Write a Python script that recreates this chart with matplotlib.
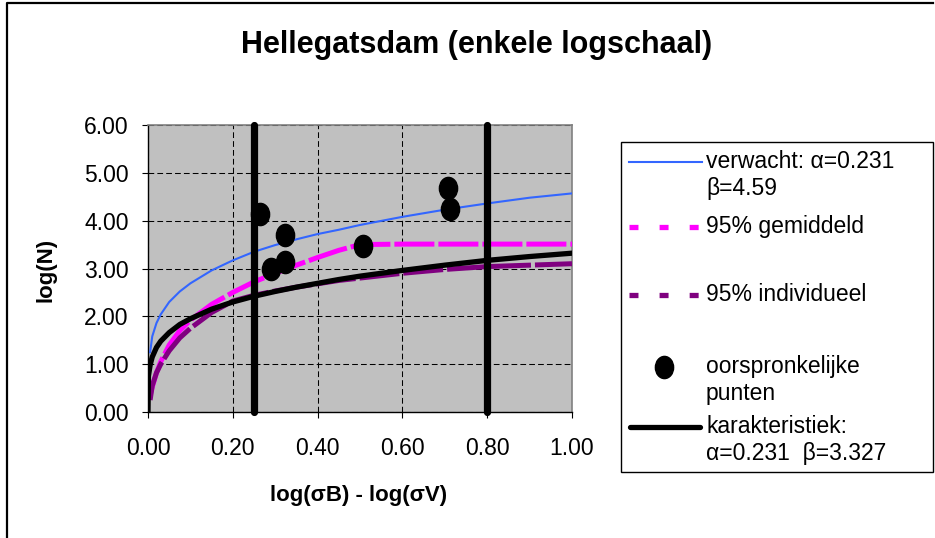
import numpy as np
import matplotlib
matplotlib.use("Agg")
import matplotlib.pyplot as plt
from matplotlib.patches import Rectangle
from matplotlib.path import Path
from matplotlib.transforms import Affine2D

# Curve values
x_curve = [0.0, 0.001, 0.005, 0.01, 0.02, 0.03, 0.05, 0.075, 0.1, 0.15, 0.2,
           0.25, 0.3, 0.35, 0.4, 0.45, 0.5, 0.6, 0.7, 0.8, 0.9, 1.0]
nan = float("nan")
verwacht = [nan, nan, 1.25, 1.58, 1.86, 2.04, 2.30, 2.52, 2.69, 2.96, 3.17,
            3.35, 3.49, 3.61, 3.72, 3.81, 3.91, 4.08, 4.23, 4.36, 4.48, 4.57]
gemiddeld = [nan, nan, 0.35, 0.52, 0.82, 1.05, 1.40, 1.70, 1.92, 2.25, 2.50,
             2.72, 2.90, 3.07, 3.23, 3.38, 3.50, 3.51, 3.51, 3.51, 3.51, 3.51]
individueel = [nan, nan, 0.25, 0.55, 0.82, 1.00, 1.28, 1.55, 1.75, 2.08, 2.32,
               2.44, 2.53, 2.61, 2.68, 2.75, 2.80, 2.90, 2.98, 3.04, 3.07, 3.10]
karakteristiek = [0.0, 0.75, 0.98, 1.15, 1.35, 1.48, 1.66, 1.83, 1.95, 2.15, 2.30,
                  2.42, 2.52, 2.61, 2.69, 2.77, 2.84, 2.96, 3.07, 3.17, 3.25, 3.32]

# Original points
punten_x = [0.264, 0.289, 0.322, 0.322, 0.508, 0.707, 0.712]
punten_y = [4.14, 2.98, 3.14, 3.70, 3.47, 4.68, 4.24]

# Vertical bounds
grens_x = [0.25, 0.80]
grens_y = [0.0, 6.0]

x_ticks = [0.0, 0.2, 0.4, 0.6, 0.8, 1.0]
y_ticks = [0.0, 1.0, 2.0, 3.0, 4.0, 5.0, 6.0]

legend_labels = ["verwacht: \u03b1=0.231\n\u03b2=4.59",
                 "95% gemiddeld",
                 "95% individueel",
                 "oorspronkelijke\npunten",
                 "karakteristiek:\n\u03b1=0.231  \u03b2=3.327"]

BLUE = "#3366FF"
MAGENTA = "#FF00FF"
PURPLE = "#800080"


def main():
    plt.rcParams["font.family"] = ["Liberation Sans", "DejaVu Sans"]
    W, H = 935, 538
    fig = plt.figure(figsize=(W / 100, H / 100), dpi=100)

    # Plot area in pixels: left 148, right 572, top 125, bottom 412
    ax = fig.add_axes([148 / W, 1 - 412 / H, 424 / W, 287 / H])
    ax.set_facecolor("#C0C0C0")

    # Elliptic marker like Excel's stretched dots
    ellipse = Path.unit_circle().transformed(Affine2D().scale(0.82, 1.0))

    ax.plot(x_curve, verwacht, color=BLUE, lw=1.5, zorder=3)
    ax.plot(x_curve, gemiddeld, color=MAGENTA, lw=3.6, dashes=(8, 0.8), zorder=3)
    ax.plot(x_curve, individueel, color=PURPLE, lw=3.6, dashes=(8, 0.8), zorder=3)
    ax.plot(punten_x, punten_y, ls="none", marker=ellipse, ms=16,
            color="black", zorder=5)
    ax.plot(x_curve, karakteristiek, color="black", lw=3.8,
            solid_capstyle="round", zorder=4)
    for gx in grens_x:
        ax.plot([gx, gx], grens_y, color="black", lw=5.2,
                solid_capstyle="round", clip_on=False, zorder=6)

    # Axes and grid
    ax.set_xlim(0, 1)
    ax.set_ylim(0, 6)
    ax.set_xticks(x_ticks)
    ax.set_yticks(y_ticks)
    ax.set_xticklabels(["%.2f" % v for v in x_ticks])
    ax.set_yticklabels(["%.2f" % v for v in y_ticks])
    ax.tick_params(axis="both", direction="out", length=4, width=0.8,
                   labelsize=16.5, color="black")
    ax.tick_params(axis="x", pad=14)
    ax.tick_params(axis="y", pad=10)
    ax.grid(True, color="black", lw=0.75, ls=(0, (5.5, 3)))
    ax.set_axisbelow(True)
    for side in ["top", "right"]:
        ax.spines[side].set_color("#808080")
        ax.spines[side].set_linewidth(1.2)
    for side in ["left", "bottom"]:
        ax.spines[side].set_color("black")
        ax.spines[side].set_linewidth(1.0)

    # Title and axis labels
    fig.text(477 / W, 1 - 45 / H, "Hellegatsdam (enkele logschaal)",
             ha="center", va="center", fontsize=22, fontweight="bold")
    fig.text(359 / W, 1 - 495 / H, "log(\u03c3B) - log(\u03c3V)",
             ha="center", va="center", fontsize=16, fontweight="bold")
    fig.text(46 / W, 1 - 270 / H, "log(N)", ha="center", va="center",
             rotation=90, fontsize=16, fontweight="bold")

    # Overlay in pixel units for frame and legend
    ov = fig.add_axes([0, 0, 1, 1], facecolor="none")
    ov.set_xlim(0, W)
    ov.set_ylim(H, 0)
    ov.axis("off")

    # Outer chart frame
    ov.plot([7, 7, 933], [H + 5, 3, 3], color="black", lw=1.6)

    # Legend box
    ov.add_patch(Rectangle((621, 142), 312, 330, fill=False,
                           edgecolor="black", lw=1.0))
    ov.plot([629, 702], [162, 162], color=BLUE, lw=1.5)
    ov.plot([629, 700], [227, 227], color=MAGENTA, lw=3.8, dashes=(1.7, 4.0))
    ov.plot([629, 700], [295, 295], color=PURPLE, lw=3.8, dashes=(1.7, 4.0))
    ov.plot([664], [367], marker=ellipse, ms=16, color="black", ls="none")
    ov.plot([630, 700], [427, 427], color="black", lw=3.8, solid_capstyle="round")
    label_y = [162, 227, 295, 367, 427]
    for ly, lab in zip(label_y, legend_labels):
        ov.text(706, ly - 12, lab, ha="left", va="top", fontsize=16.5,
                linespacing=1.2)

    fig.savefig("out.png", dpi=100)


if __name__ == "__main__":
    main()
